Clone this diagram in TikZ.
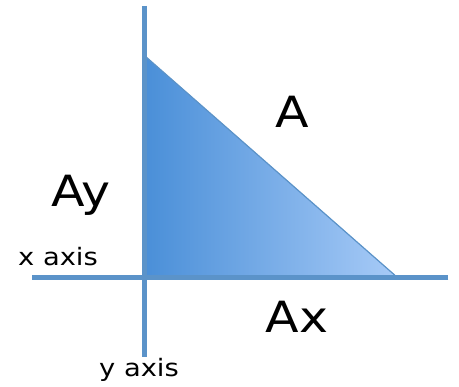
\documentclass[tikz,border=0pt]{standalone}
\usepackage{fontspec}
\setmainfont[FakeStretch=1.14]{DejaVu Sans}
\usetikzlibrary{positioning,shadows}
\definecolor{Axis}{HTML}{5B93C9}
\definecolor{DeepBlue}{HTML}{4A8FD8}
\definecolor{PaleBlue}{HTML}{A8CBF7}
\begin{document}
\begin{tikzpicture}[x=1pt,y=-1pt,
    axisline/.style={draw=Axis,line width=5pt},
    big/.style={font=\fontsize{43}{43}\selectfont,anchor=base,inner sep=0pt},
    small/.style={font=\fontsize{24}{24}\selectfont,anchor=base,inner sep=0pt}
  ]
    \useasboundingbox (0,0) rectangle (459,387);
    % triangle corners
    \coordinate (top) at (145,56);
    \coordinate (origin) at (145,278);
    \coordinate (tip) at (398,278);
    \coordinate (xleft) at (32,278);
    \coordinate (xright) at (448,278);
    \coordinate (ytop) at (144,6);
    \coordinate (ybot) at (144,357);
    \fill[left color=DeepBlue,right color=PaleBlue] (top) -- (tip) -- (origin) -- cycle;
    \draw[Axis,line width=1.2pt] (top) -- (tip);
    \draw[axisline,drop shadow={opacity=0.35,shadow xshift=1pt,shadow yshift=-2pt}] (xleft) -- (xright);
    \draw[axisline] (ytop) -- (ybot);
    % labels
    \node[big] (lblA) at (292,128) {A};
    \node[big] (lblAy) at (81,207) {Ay};
    \node[big] (lblAx) at (297,333) {Ax};
    \node[small] (lblxaxis) at (58,266) {x axis};
    \node[small] (lblyaxis) at (139,377) {y axis};
  \end{tikzpicture}
\end{document}
